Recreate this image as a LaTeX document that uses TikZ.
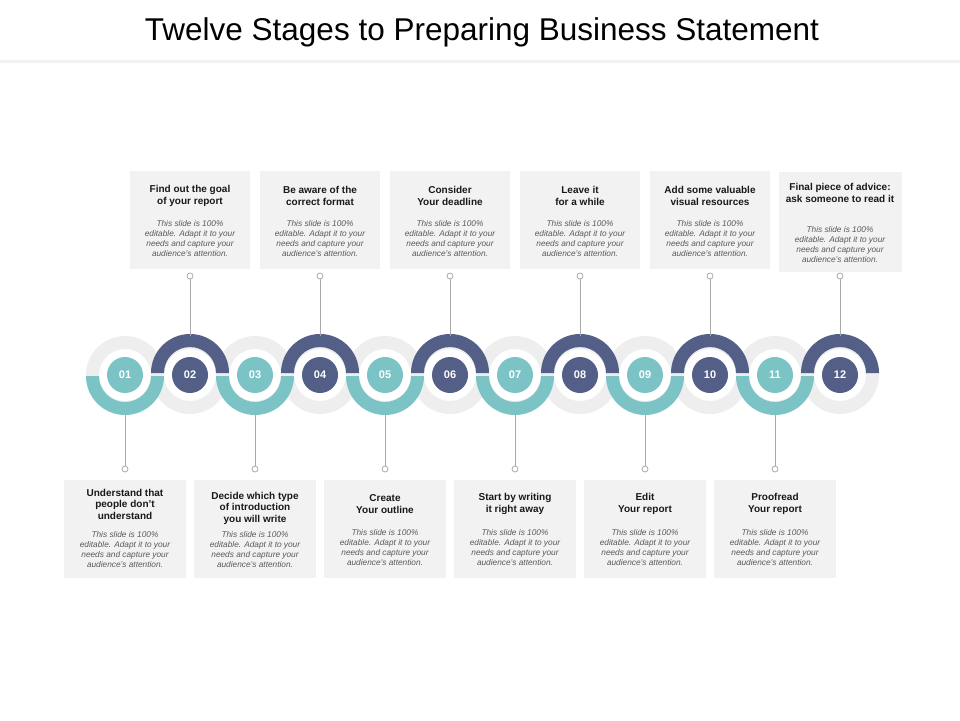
\documentclass[tikz,border=0pt]{standalone}
\usepackage{fontspec}
\setmainfont{Liberation Sans}
\definecolor{teal1}{HTML}{7CC3C6}
\definecolor{navy1}{HTML}{535F86}
\definecolor{ring}{HTML}{EEEEEE}
\definecolor{boxbg}{HTML}{F2F2F2}
\definecolor{ln}{HTML}{AAAAAA}
\begin{document}
\begin{tikzpicture}[x=1pt,y=-1pt,
 box/.style={fill=boxbg,minimum width=120pt,minimum height=98pt,inner sep=0pt},
 head/.style={font=\fontsize{10}{11.5}\selectfont\bfseries,align=center,text=black!90},
 body/.style={font=\fontsize{8.3}{10}\selectfont\itshape,align=center,text=black!65},
 num/.style={circle,minimum size=36pt,inner sep=0pt,text=white,font=\fontsize{11}{12}\selectfont\bfseries},
 conn/.style={draw=ln,line width=0.8pt},
 dot/.style={circle,draw=ln,fill=white,line width=0.8pt,minimum size=6pt,inner sep=0pt}]
\useasboundingbox (0,0) rectangle (960,720);
\node (title) at (482,32) {\fontsize{31.5}{36}\selectfont Twelve Stages to Preparing Business Statement};
\fill[ring!80] (0,60) rectangle (960,63);
% rings
\foreach \i in {1,...,12}{
 \pgfmathsetmacro{\cx}{125+65*(\i-1)}
 \fill[ring,even odd rule] (\cx,375) circle (39) circle (26);
}
\foreach \i in {1,3,...,11}{
 \pgfmathsetmacro{\cx}{125+65*(\i-1)}
 \fill[teal1] (\cx-39,376) arc[start angle=180,end angle=0,radius=39] -- (\cx+26,376) arc[start angle=0,end angle=180,radius=26] -- cycle;
}
\foreach \i in {2,4,...,12}{
 \pgfmathsetmacro{\cx}{125+65*(\i-1)}
 \fill[navy1] (\cx-39,373) arc[start angle=180,end angle=360,radius=39] -- (\cx+26,373) arc[start angle=360,end angle=180,radius=26] -- cycle;
}
\foreach \i/\c in {1/teal1,2/navy1,3/teal1,4/navy1,5/teal1,6/navy1,7/teal1,8/navy1,9/teal1,10/navy1,11/teal1,12/navy1}{
 \pgfmathsetmacro{\cx}{125+65*(\i-1)}
 \node[num,fill=\c] (n\i) at (\cx,375) {\ifnum\i<10 0\fi\i};
}
% top boxes
\foreach \i/\h in {2/{Find out the goal\\of your report},4/{Be aware of the\\correct format},6/{Consider\\Your deadline},8/{Leave it\\for a while},10/{Add some valuable\\visual resources}}{
 \pgfmathsetmacro{\cx}{125+65*(\i-1)}
 \node[box] (b\i) at (\cx,219.5) {};
 \node[head] (h\i) at (\cx,196) {\h};
 \node[body] (t\i) at (\cx,239) {This slide is 100\%\\editable. Adapt it to your\\needs and capture your\\audience's attention.};
 \node[dot] (d\i) at (\cx,276) {};
 \draw[conn] (d\i) -- (\cx,336);
}
\node[box,minimum width=123pt,minimum height=100pt] (b12) at (840.5,221.5) {};
\node[head] (h12) at (840,193) {Final piece of advice:\\ask someone to read it};
\node[body] (t12) at (840,245) {This slide is 100\%\\editable. Adapt it to your\\needs and capture your\\audience's attention.};
\node[dot] (d12) at (840,276) {};
\draw[conn] (d12) -- (840,336);
% bottom boxes
\foreach \i/\h/\hy/\ty in {1/{Understand that\\people don't\\understand}/504/550,3/{Decide which type\\of introduction\\you will write}/508/550,5/{Create\\Your outline}/504/548,7/{Start by writing\\it right away}/504/548,9/{Edit\\Your report}/504/548,11/{Proofread\\Your report}/504/548}{
 \pgfmathsetmacro{\cx}{125+65*(\i-1)}
 \node[box,minimum width=122pt] (b\i) at (\cx,528.5) {};
 \node[head] (h\i) at (\cx,\hy) {\h};
 \node[body] (t\i) at (\cx,\ty) {This slide is 100\%\\editable. Adapt it to your\\needs and capture your\\audience's attention.};
 \node[dot] (d\i) at (\cx,469) {};
 \draw[conn] (\cx,414) -- (d\i);
}
\end{tikzpicture}
\end{document}
